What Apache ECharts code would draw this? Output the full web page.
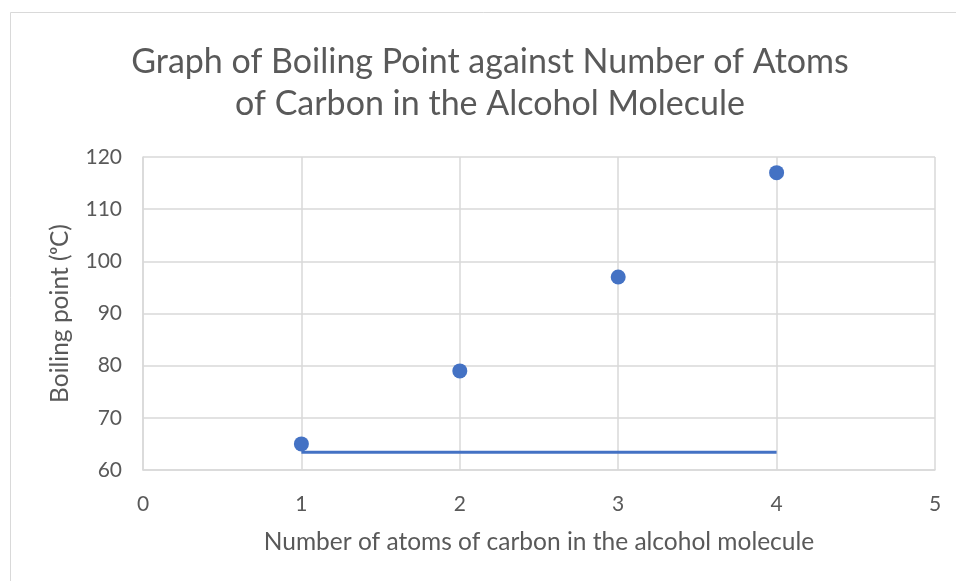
<!DOCTYPE html>
<html>
<head>
<meta charset="utf-8">
<script src="https://cdn.jsdelivr.net/npm/echarts@6/dist/echarts.min.js"></script>
<style>
  html, body { margin: 0; padding: 0; background: #ffffff; }
  #chart { width: 956px; height: 581px; }
</style>
</head>
<body>
<div id="chart"></div>
<script>
// Boiling points of the first four straight-chain alcohols
const carbonAtoms = [1, 2, 3, 4];
const boilingPoints = [65, 79, 97, 117];

// Horizontal reference line drawn across the data range
const refLineX = [1, 4];
const refLineY = [63.4, 63.4];

const titleLines = [
  'Graph of Boiling Point against Number of Atoms',
  'of Carbon in the Alcohol Molecule'
];
const xAxisTitle = 'Number of atoms of carbon in the alcohol molecule';
const yAxisTitle = 'Boiling point (\u1D52C)';

const textColor = '#595959';
const gridColor = '#d9d9d9';
const markColor = '#4472C4';
const fontFamily = 'Lato, "Open Sans", sans-serif';

const chart = echarts.init(document.getElementById('chart'), null, { renderer: 'canvas' });

chart.setOption({
  animation: false,
  backgroundColor: '#ffffff',
  textStyle: { fontFamily: fontFamily },
  graphic: [
    {
      type: 'rect',
      shape: { x: 10.5, y: 12.5, width: 1000, height: 1000 },
      style: { fill: 'none', stroke: '#d9d9d9', lineWidth: 1 },
      silent: true,
      z: -10
    },
    {
      type: 'text',
      x: 490,
      y: 41,
      style: {
        text: titleLines.join('\n'),
        textAlign: 'center',
        fill: textColor,
        font: '34px ' + fontFamily,
        lineHeight: 42
      },
      silent: true
    }
  ],
  grid: { left: 143, right: 21, top: 157, bottom: 111 },
  xAxis: {
    type: 'value',
    min: 0,
    max: 5,
    interval: 1,
    name: xAxisTitle,
    nameLocation: 'middle',
    nameGap: 60,
    nameTextStyle: { color: textColor, fontSize: 24.5, fontFamily: fontFamily },
    axisLine: { show: true, onZero: false, lineStyle: { color: gridColor, width: 1.5 } },
    axisTick: { show: false },
    axisLabel: { color: textColor, fontSize: 21, margin: 24, fontFamily: fontFamily },
    splitLine: { show: true, lineStyle: { color: gridColor, width: 1.5 } }
  },
  yAxis: {
    type: 'value',
    min: 60,
    max: 120,
    interval: 10,
    name: yAxisTitle,
    nameLocation: 'middle',
    nameGap: 70,
    nameTextStyle: { color: textColor, fontSize: 24.5, fontFamily: fontFamily },
    axisLine: { show: true, onZero: false, lineStyle: { color: gridColor, width: 1.5 } },
    axisTick: { show: false },
    axisLabel: { color: textColor, fontSize: 21, margin: 21, fontFamily: fontFamily },
    splitLine: { show: true, lineStyle: { color: gridColor, width: 1.5 } }
  },
  series: [
    {
      type: 'line',
      data: refLineX.map((x, i) => [x, refLineY[i]]),
      showSymbol: false,
      symbol: 'none',
      lineStyle: { color: markColor, width: 3 },
      z: 2
    },
    {
      type: 'scatter',
      data: carbonAtoms.map((x, i) => [x, boilingPoints[i]]),
      symbol: 'circle',
      symbolSize: 15,
      itemStyle: { color: markColor, opacity: 1 },
      z: 3
    }
  ]
});
</script>
</body>
</html>
